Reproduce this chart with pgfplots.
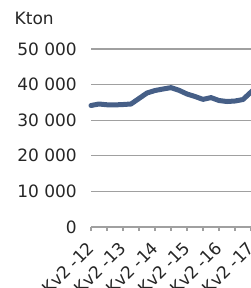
\documentclass[border=0pt]{standalone}
\usepackage{fontspec}
\setmainfont{DejaVu Sans}
\usepackage{pgfplots}
\pgfplotsset{compat=1.18}
\definecolor{linec}{RGB}{70,95,135}
\definecolor{gridc}{RGB}{160,160,160}
\begin{document}
\begin{tikzpicture}
\begin{axis}[
  at={(0pt,0pt)}, anchor=south west,
  scale only axis, width=168pt, height=178pt,
  xmin=0, xmax=21, ymin=0, ymax=50000,
  scaled y ticks=false,
  separate axis lines,
  axis x line*=bottom, axis y line*=left,
  x axis line style={gridc, line width=1.3pt, -},
  y axis line style={draw=none},
  ymajorgrids, grid style={gridc, line width=1.3pt},
  xtick={0,2,...,20},
  xticklabels={Kv2 -12,,Kv2 -13,,Kv2 -14,,Kv2 -15,,Kv2 -16,,Kv2 -17},
  ytick={0,10000,20000,30000,40000,50000},
  yticklabels={0,10 000,20 000,30 000,40 000,50 000},
  xtick align=outside, major tick length=4pt,
  xtick style={gridc, line width=1.2pt},
  ytick style={draw=none},
  tick label style={font=\fontsize{17pt}{17pt}\selectfont, text=black!85},
  yticklabel style={anchor=east, inner sep=0pt, xshift=-14pt},
  x tick label style={rotate=45, anchor=east, inner sep=0pt},
  xticklabel shift=14pt,
  clip=false,
]
\addplot[linec, line width=5pt, line join=round, line cap=round] coordinates {
(0,34130) (1,34550) (2,34330) (3,34300) (4,34400) (5,34550) (6,36100)
(7,37640) (8,38340) (9,38760) (10,39150) (11,38400) (12,37360) (13,36660)
(14,35850) (15,36350) (16,35530) (17,35250) (18,35390) (19,35810) (20,37900) (21,40200)
};
\end{axis}
\node[anchor=base west, inner sep=0pt, font=\fontsize{17pt}{17pt}\selectfont, text=black!85] at (-76.5pt,202pt) {Kton};
\pgfresetboundingbox
\path[use as bounding box] (-91pt,-61pt) rectangle (159pt,227pt);
\end{tikzpicture}
\end{document}
